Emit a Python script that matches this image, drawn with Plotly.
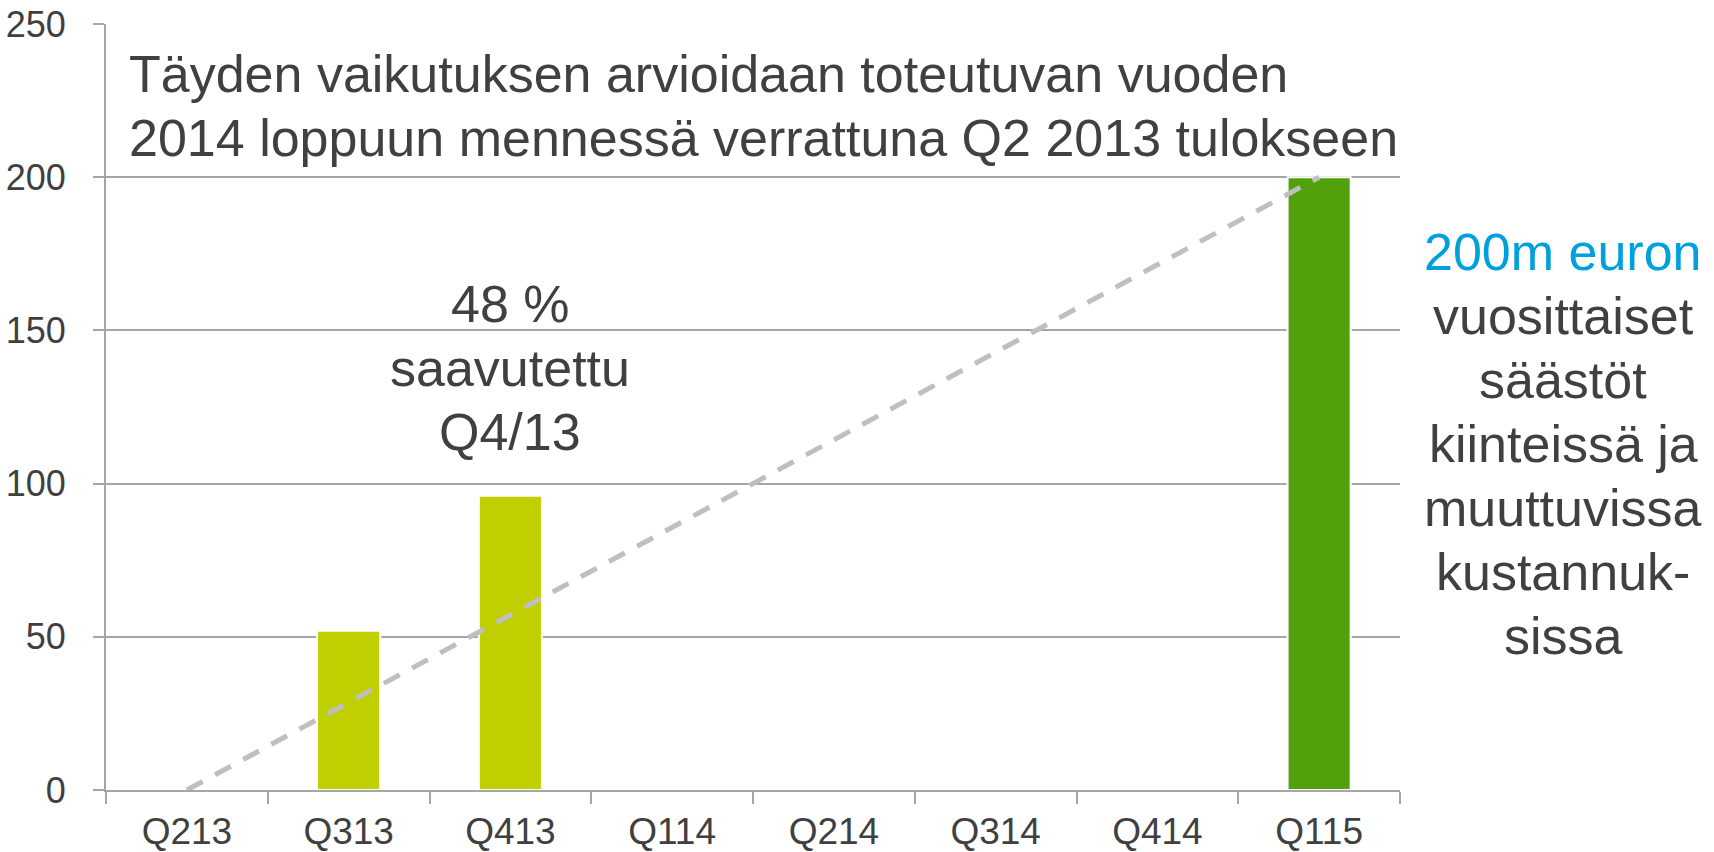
import plotly.graph_objects as go

categories = ["Q213", "Q313", "Q413", "Q114", "Q214", "Q314", "Q414", "Q115"]
achieved = [None, 52, 96, None, None, None, None, None]
target = [None, None, None, None, None, None, None, 200]
trend_x = ["Q213", "Q115"]
trend_y = [0, 200]
y_ticks = [0, 50, 100, 150, 200, 250]

title_lines = ["Täyden vaikutuksen arvioidaan toteutuvan vuoden",
               "2014 loppuun mennessä verrattuna Q2 2013 tulokseen"]
mid_lines = ["48 %", "saavutettu", "Q4/13"]
right_lines = ["200m euron", "vuosittaiset", "säästöt", "kiinteissä ja",
               "muuttuvissa", "kustannuk-", "sissa"]

W, H = 1714, 852
L, R, T, B = 106, 314, 24, 62
PW, PH = W - L - R, H - T - B

def px(x):
    return (x - L) / PW

def py(y):
    return (H - B - y) / PH

FONT = "Liberation Sans, Arial, sans-serif"
TXT = "#404040"
GRID = "#a6a6a6"

fig = go.Figure()
fig.add_trace(go.Bar(x=categories, y=achieved, marker=dict(color="#c0cf00", line=dict(color="white", width=2)),
                     width=0.39, showlegend=False, hoverinfo="skip"))
fig.add_trace(go.Bar(x=categories, y=target, marker=dict(color="#51a00c", line=dict(color="white", width=2)),
                     width=0.39, showlegend=False, hoverinfo="skip"))
fig.add_trace(go.Scatter(x=trend_x, y=trend_y, mode="lines",
                         line=dict(color="#bfbfbf", width=5, dash="18px,14px"),
                         showlegend=False, hoverinfo="skip"))

ann = []
for i, t in enumerate(title_lines):
    ann.append(dict(text=t, x=px(127), y=py(74 + 64 * i), xref="paper", yref="paper",
                    xanchor="left", yanchor="middle", showarrow=False,
                    font=dict(family=FONT, size=52, color=TXT)))
for i, t in enumerate(mid_lines):
    ann.append(dict(text=t, x="Q413", y=py(304 + 64 * i), xref="x", yref="paper",
                    xanchor="center", yanchor="middle", showarrow=False,
                    font=dict(family=FONT, size=52, color=TXT)))
for i, t in enumerate(right_lines):
    ann.append(dict(text=t, x=px(1563), y=py(252 + 64 * i), xref="paper", yref="paper",
                    xanchor="center", yanchor="middle", showarrow=False,
                    font=dict(family=FONT, size=52, color="#00a0dc" if i == 0 else TXT)))

fig.update_layout(
    width=W, height=H,
    margin=dict(l=L, r=R, t=T, b=B, pad=0),
    paper_bgcolor="white", plot_bgcolor="white",
    barmode="overlay",
    annotations=ann,
    font=dict(family=FONT, color=TXT),
    xaxis=dict(type="category", categoryorder="array", categoryarray=categories,
               range=[-0.5, 7.5], showgrid=False, showline=True, linecolor=GRID, linewidth=2,
               ticks="outside", tickson="boundaries", ticklen=12, tickcolor=GRID, tickwidth=2,
               ticklabelstandoff=8, automargin=False,
               tickfont=dict(family=FONT, size=37, color=TXT), zeroline=False),
    yaxis=dict(range=[0, 250], tickvals=y_ticks, showgrid=True, gridcolor=GRID, gridwidth=2,
               showline=True, linecolor=GRID, linewidth=2, ticks="outside", ticklen=11,
               tickcolor=GRID, tickwidth=2, zeroline=False, automargin=False,
               ticklabelstandoff=20,
               tickfont=dict(family=FONT, size=36, color=TXT)),
)

fig.write_html("out.html", config={"displayModeBar": False},
               post_script="document.body.style.margin='0';document.body.style.overflow='hidden';")
